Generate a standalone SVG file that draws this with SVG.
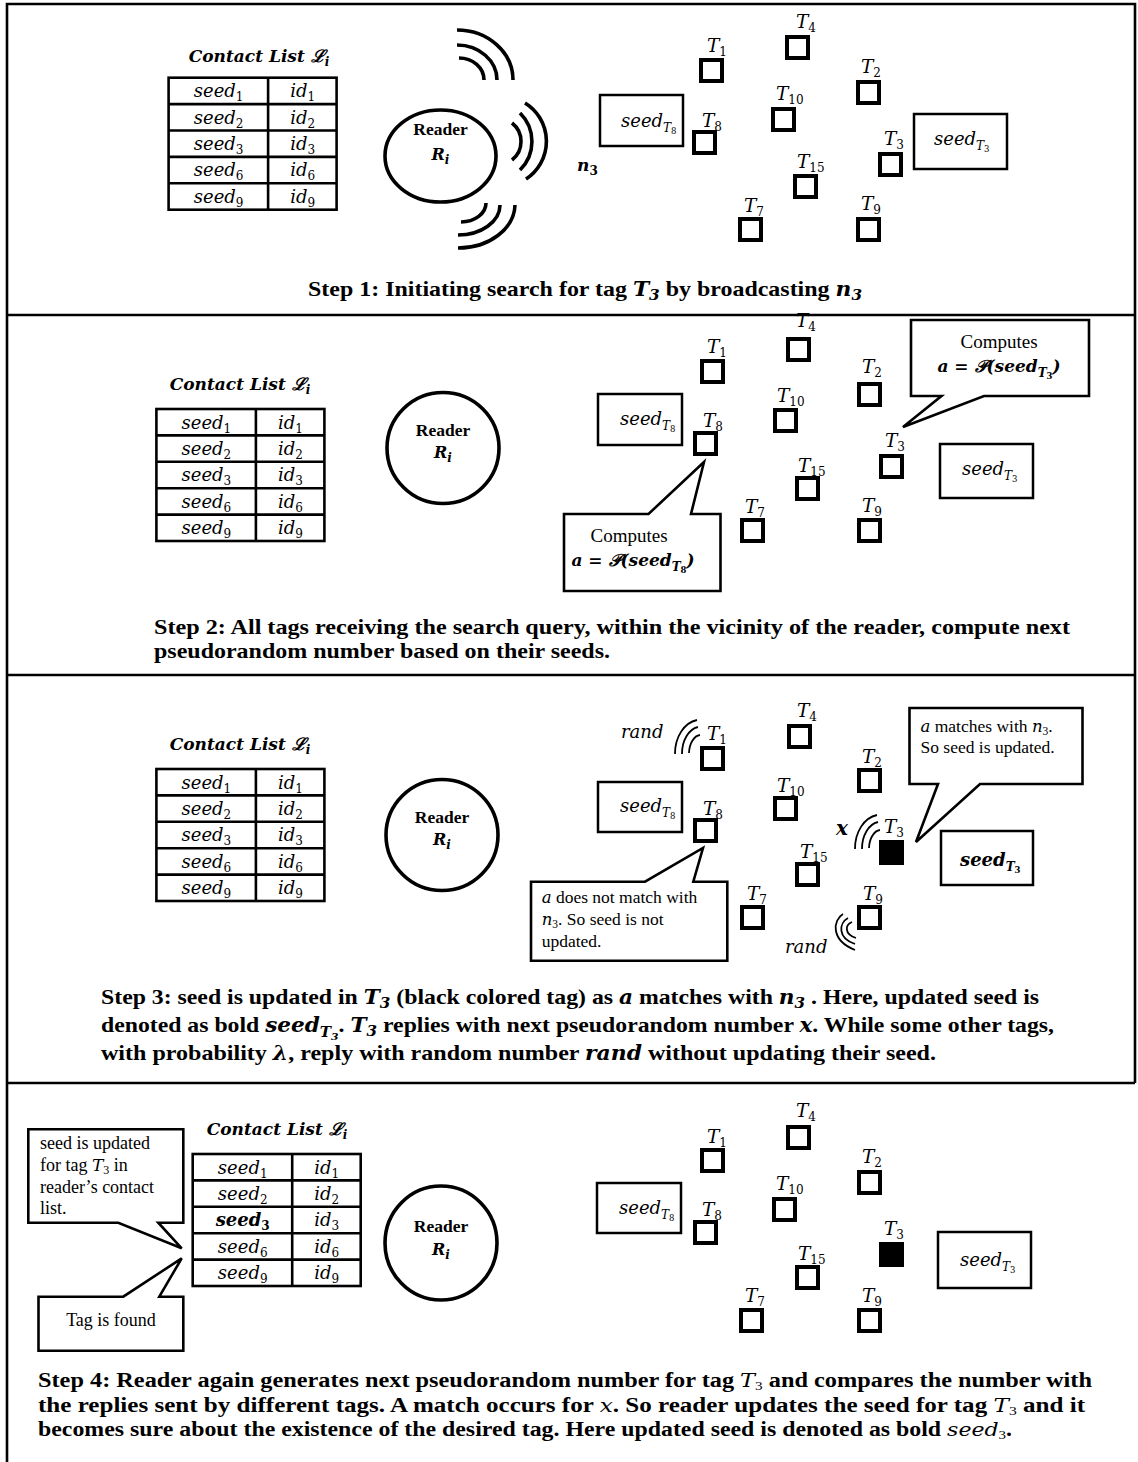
<svg xmlns="http://www.w3.org/2000/svg" xmlns:xlink="http://www.w3.org/1999/xlink" width="1138" height="1462" viewBox="0 0 1138 1462">
<style>
.frame{fill:none;stroke:#000;stroke-width:2.6}
.tag{fill:#fff;stroke:#000;stroke-width:4}
.found{fill:#000;stroke:#000;stroke-width:4}
.sbox{fill:#fff;stroke:#000;stroke-width:2.5}
.grid{fill:none;stroke:#000;stroke-width:2.6}
.reader{fill:#fff;stroke:#000;stroke-width:3.6}
.callout{fill:#fff;stroke:#000;stroke-width:2.6;stroke-linejoin:miter}
.wbig{fill:none;stroke:#000;stroke-width:3.6}
.wsm{fill:none;stroke:#000;stroke-width:1.8}
.m{font-family:'DejaVu Serif','Liberation Serif',serif;font-style:italic}
.mb{font-family:'DejaVu Serif','Liberation Serif',serif;font-style:italic;font-weight:bold}
.tl{font-size:18.5px}
.sub{font-size:12px;font-style:normal}
.subi{font-size:12px;font-style:italic}
.ssub{font-size:8.5px;font-style:normal}
.cell{font-size:18px}
.title{font-size:17px}
.cap{font-family:'Liberation Serif',serif;font-weight:bold;font-size:22px}
.cap4{font-family:'Liberation Serif',serif;font-weight:bold;font-size:20px}
.txt{font-family:'Liberation Serif',serif;font-size:17.5px}
.txt18{font-family:'Liberation Serif',serif;font-size:18px}
.txt19{font-family:'Liberation Serif',serif;font-size:19px}
.rd{font-family:'Liberation Serif',serif;font-weight:bold;font-size:17.5px}
</style>
<defs>
<g id="wv" class="wsm">
<path d="M0,34 A26,34 0 0 1 22,0"/>
<path d="M7,34 A19,27 0 0 1 23,7"/>
<path d="M14,33 A12,19 0 0 1 25,15"/>
</g>
<g id="grid">
<rect x="0" y="0" width="168" height="132" class="grid"/>
<path class="grid" d="M99.5,0 V132 M0,26.4 H168 M0,52.8 H168 M0,79.2 H168 M0,105.6 H168"/>
</g>
</defs>
<rect width="1138" height="1462" fill="#fff"/>
<g id="frame">
<path class="frame" d="M7,1462 V4 H1135 V1083 M7,315 H1135 M7,675 H1135 M7,1083 H1135"/>
</g>

<!-- ============ PANEL 1 ============ -->
<g id="p1-contact-list">
<text class="mb title" x="259" y="62" text-anchor="middle">Contact List ℒ<tspan class="subi" dy="4">i</tspan></text>
<g transform="translate(168.6,77.7)">
<use href="#grid"/>
<g class="m cell" text-anchor="middle">
<text x="50" y="19.5">seed<tspan class="sub" dy="4">1</tspan></text><text x="134" y="19.5">id<tspan class="sub" dy="4">1</tspan></text>
<text x="50" y="45.9">seed<tspan class="sub" dy="4">2</tspan></text><text x="134" y="45.9">id<tspan class="sub" dy="4">2</tspan></text>
<text x="50" y="72.3">seed<tspan class="sub" dy="4">3</tspan></text><text x="134" y="72.3">id<tspan class="sub" dy="4">3</tspan></text>
<text x="50" y="98.7">seed<tspan class="sub" dy="4">6</tspan></text><text x="134" y="98.7">id<tspan class="sub" dy="4">6</tspan></text>
<text x="50" y="125.1">seed<tspan class="sub" dy="4">9</tspan></text><text x="134" y="125.1">id<tspan class="sub" dy="4">9</tspan></text>
</g>
</g>
</g>
<g id="p1-reader">
<ellipse class="reader" cx="440.5" cy="156" rx="55.5" ry="46"/>
<text class="rd" x="440.5" y="135" text-anchor="middle">Reader</text>
<text class="mb" font-size="16" x="440.5" y="160" text-anchor="middle">R<tspan class="subi" dy="4">i</tspan></text>
</g>
<g id="p1-n3"><text class="mb" font-size="17" x="577" y="171">n<tspan class="sub" dy="4">3</tspan></text></g>
<g id="p1-tags">
<g id="p1-T4"><rect class="tag" x="787" y="37" width="21" height="21"/><text class="m tl" x="796" y="28">T<tspan class="sub" dy="4">4</tspan></text></g>
<g id="p1-T1"><rect class="tag" x="701" y="60" width="21" height="21"/><text class="m tl" x="707" y="52">T<tspan class="sub" dy="4">1</tspan></text></g>
<g id="p1-T2"><rect class="tag" x="858" y="82" width="21" height="21"/><text class="m tl" x="861" y="73">T<tspan class="sub" dy="4">2</tspan></text></g>
<g id="p1-T10"><rect class="tag" x="773" y="109" width="21" height="21"/><text class="m tl" x="776" y="100">T<tspan class="sub" dy="4">10</tspan></text></g>
<g id="p1-T8"><rect class="tag" x="694" y="132" width="21" height="21"/><text class="m tl" x="702" y="127">T<tspan class="sub" dy="4">8</tspan></text></g>
<g id="p1-T3"><rect class="tag" x="880" y="154" width="21" height="21"/><text class="m tl" x="884" y="145">T<tspan class="sub" dy="4">3</tspan></text></g>
<g id="p1-T15"><rect class="tag" x="795" y="176" width="21" height="21"/><text class="m tl" x="797" y="168">T<tspan class="sub" dy="4">15</tspan></text></g>
<g id="p1-T7"><rect class="tag" x="740" y="219" width="21" height="21"/><text class="m tl" x="744" y="212">T<tspan class="sub" dy="4">7</tspan></text></g>
<g id="p1-T9"><rect class="tag" x="858" y="219" width="21" height="21"/><text class="m tl" x="861" y="210">T<tspan class="sub" dy="4">9</tspan></text></g>
<g id="p1-seedT8"><rect class="sbox" x="600" y="95" width="83" height="51"/><text class="m" font-size="18" x="621" y="127">seed<tspan class="subi" dy="5">T</tspan><tspan class="ssub" dy="2">8</tspan></text></g>
<g id="p1-seedT3"><rect class="sbox" x="914" y="114" width="93" height="55"/><text class="m" font-size="18" x="934" y="145">seed<tspan class="subi" dy="5">T</tspan><tspan class="ssub" dy="2">3</tspan></text></g>
</g>
<g id="p1-caption">
<text class="cap" x="308" y="296" textLength="554" lengthAdjust="spacingAndGlyphs">Step 1: Initiating search for tag <tspan class="mb" font-size="20">T</tspan><tspan class="mb" font-size="14" font-style="normal" dy="4">3</tspan><tspan dy="-4"> by broadcasting </tspan><tspan class="mb" font-size="20">n</tspan><tspan class="mb" font-size="14" font-style="normal" dy="4">3</tspan></text>
</g>

<!-- ============ PANEL 2 ============ -->
<g id="p2-contact-list">
<text class="mb title" x="240" y="390" text-anchor="middle">Contact List ℒ<tspan class="subi" dy="4">i</tspan></text>
<g transform="translate(156.4,409)">
<use href="#grid"/>
<g class="m cell" text-anchor="middle">
<text x="50" y="19.5">seed<tspan class="sub" dy="4">1</tspan></text><text x="134" y="19.5">id<tspan class="sub" dy="4">1</tspan></text>
<text x="50" y="45.9">seed<tspan class="sub" dy="4">2</tspan></text><text x="134" y="45.9">id<tspan class="sub" dy="4">2</tspan></text>
<text x="50" y="72.3">seed<tspan class="sub" dy="4">3</tspan></text><text x="134" y="72.3">id<tspan class="sub" dy="4">3</tspan></text>
<text x="50" y="98.7">seed<tspan class="sub" dy="4">6</tspan></text><text x="134" y="98.7">id<tspan class="sub" dy="4">6</tspan></text>
<text x="50" y="125.1">seed<tspan class="sub" dy="4">9</tspan></text><text x="134" y="125.1">id<tspan class="sub" dy="4">9</tspan></text>
</g>
</g>
</g>
<g id="p2-reader">
<ellipse class="reader" cx="443" cy="448" rx="56" ry="55.5"/>
<text class="rd" x="443" y="436" text-anchor="middle">Reader</text>
<text class="mb" font-size="16" x="443" y="458" text-anchor="middle">R<tspan class="subi" dy="4">i</tspan></text>
</g>
<g id="p2-tags">
<g id="p2-T4"><rect class="tag" x="788" y="339" width="21" height="21"/><text class="m tl" x="796" y="327">T<tspan class="sub" dy="4">4</tspan></text></g>
<g id="p2-T1"><rect class="tag" x="702" y="361" width="21" height="21"/><text class="m tl" x="707" y="353">T<tspan class="sub" dy="4">1</tspan></text></g>
<g id="p2-T2"><rect class="tag" x="859" y="384" width="21" height="21"/><text class="m tl" x="862" y="373">T<tspan class="sub" dy="4">2</tspan></text></g>
<g id="p2-T10"><rect class="tag" x="775" y="410" width="21" height="21"/><text class="m tl" x="777" y="402">T<tspan class="sub" dy="4">10</tspan></text></g>
<g id="p2-T8"><rect class="tag" x="695" y="433" width="21" height="21"/><text class="m tl" x="703" y="427">T<tspan class="sub" dy="4">8</tspan></text></g>
<g id="p2-T3"><rect class="tag" x="881" y="456" width="21" height="21"/><text class="m tl" x="885" y="447">T<tspan class="sub" dy="4">3</tspan></text></g>
<g id="p2-T15"><rect class="tag" x="797" y="478" width="21" height="21"/><text class="m tl" x="798" y="472">T<tspan class="sub" dy="4">15</tspan></text></g>
<g id="p2-T7"><rect class="tag" x="742" y="520" width="21" height="21"/><text class="m tl" x="745" y="513">T<tspan class="sub" dy="4">7</tspan></text></g>
<g id="p2-T9"><rect class="tag" x="859" y="520" width="21" height="21"/><text class="m tl" x="862" y="512">T<tspan class="sub" dy="4">9</tspan></text></g>
<g id="p2-seedT8"><rect class="sbox" x="598" y="394" width="84" height="51"/><text class="m" font-size="18" x="620" y="425">seed<tspan class="subi" dy="5">T</tspan><tspan class="ssub" dy="2">8</tspan></text></g>
<g id="p2-seedT3"><rect class="sbox" x="940" y="444" width="93" height="54"/><text class="m" font-size="18" x="962" y="475">seed<tspan class="subi" dy="5">T</tspan><tspan class="ssub" dy="2">3</tspan></text></g>
</g>
<g id="p2-callout-T3">
<path class="callout" d="M911,320 H1089 V396 H984 L903,427 L941.5,396 H911 Z"/>
<text class="txt19" x="999" y="348" text-anchor="middle">Computes</text>
<text class="mb" font-size="17" x="999" y="372" text-anchor="middle">a = 𝒫(seed<tspan class="subi" dy="5">T</tspan><tspan class="ssub" dy="2">3</tspan><tspan dy="-7">)</tspan></text>
</g>
<g id="p2-callout-T8">
<path class="callout" d="M564,514 H648.5 L704,462 L691,514 H720.5 V591 H564 Z"/>
<text class="txt19" x="629" y="542" text-anchor="middle">Computes</text>
<text class="mb" font-size="17" x="633" y="566" text-anchor="middle">a = 𝒫(seed<tspan class="subi" dy="5">T</tspan><tspan class="ssub" dy="2">8</tspan><tspan dy="-7">)</tspan></text>
</g>
<g id="p2-caption">
<text class="cap" x="154" y="634" textLength="916" lengthAdjust="spacingAndGlyphs">Step 2: All tags receiving the search query, within the vicinity of the reader, compute next</text>
<text class="cap" x="154" y="658" textLength="456" lengthAdjust="spacingAndGlyphs">pseudorandom number based on their seeds.</text>
</g>

<!-- ============ PANEL 3 ============ -->
<g id="p3-contact-list">
<text class="mb title" x="240" y="750" text-anchor="middle">Contact List ℒ<tspan class="subi" dy="4">i</tspan></text>
<g transform="translate(156.4,769)">
<use href="#grid"/>
<g class="m cell" text-anchor="middle">
<text x="50" y="19.5">seed<tspan class="sub" dy="4">1</tspan></text><text x="134" y="19.5">id<tspan class="sub" dy="4">1</tspan></text>
<text x="50" y="45.9">seed<tspan class="sub" dy="4">2</tspan></text><text x="134" y="45.9">id<tspan class="sub" dy="4">2</tspan></text>
<text x="50" y="72.3">seed<tspan class="sub" dy="4">3</tspan></text><text x="134" y="72.3">id<tspan class="sub" dy="4">3</tspan></text>
<text x="50" y="98.7">seed<tspan class="sub" dy="4">6</tspan></text><text x="134" y="98.7">id<tspan class="sub" dy="4">6</tspan></text>
<text x="50" y="125.1">seed<tspan class="sub" dy="4">9</tspan></text><text x="134" y="125.1">id<tspan class="sub" dy="4">9</tspan></text>
</g>
</g>
</g>
<g id="p3-reader">
<ellipse class="reader" cx="442" cy="835" rx="56" ry="55.5"/>
<text class="rd" x="442" y="823" text-anchor="middle">Reader</text>
<text class="mb" font-size="16" x="442" y="845" text-anchor="middle">R<tspan class="subi" dy="4">i</tspan></text>
</g>
<g id="p3-tags">
<g id="p3-T4"><rect class="tag" x="789" y="726" width="21" height="21"/><text class="m tl" x="797" y="717">T<tspan class="sub" dy="4">4</tspan></text></g>
<g id="p3-T1"><rect class="tag" x="702" y="748" width="21" height="21"/><text class="m tl" x="707" y="740">T<tspan class="sub" dy="4">1</tspan></text></g>
<g id="p3-T2"><rect class="tag" x="859" y="770" width="21" height="21"/><text class="m tl" x="862" y="763">T<tspan class="sub" dy="4">2</tspan></text></g>
<g id="p3-T10"><rect class="tag" x="775" y="798" width="21" height="21"/><text class="m tl" x="777" y="792">T<tspan class="sub" dy="4">10</tspan></text></g>
<g id="p3-T8"><rect class="tag" x="695" y="820" width="21" height="21"/><text class="m tl" x="703" y="815">T<tspan class="sub" dy="4">8</tspan></text></g>
<g id="p3-T3"><rect class="found" x="881" y="842" width="21" height="21"/><text class="m tl" x="884" y="833">T<tspan class="sub" dy="4">3</tspan></text></g>
<g id="p3-T15"><rect class="tag" x="797" y="864" width="21" height="21"/><text class="m tl" x="800" y="858">T<tspan class="sub" dy="4">15</tspan></text></g>
<g id="p3-T7"><rect class="tag" x="742" y="907" width="21" height="21"/><text class="m tl" x="747" y="900">T<tspan class="sub" dy="4">7</tspan></text></g>
<g id="p3-T9"><rect class="tag" x="859" y="907" width="21" height="21"/><text class="m tl" x="863" y="900">T<tspan class="sub" dy="4">9</tspan></text></g>
<g id="p3-seedT8"><rect class="sbox" x="598" y="782" width="84" height="50"/><text class="m" font-size="18" x="620" y="812">seed<tspan class="subi" dy="5">T</tspan><tspan class="ssub" dy="2">8</tspan></text></g>
<g id="p3-seedT3"><rect class="sbox" x="941" y="831" width="92" height="54"/><text class="mb" font-size="18" x="960" y="866">seed<tspan class="subi" dy="5">T</tspan><tspan class="ssub" dy="2">3</tspan></text></g>
</g>
<g id="p3-labels">
<text class="m" font-size="18" x="621" y="738">rand</text>
<text class="mb" font-size="20" x="836" y="835">x</text>
<text class="m" font-size="18" x="785" y="953">rand</text>
</g>
<g id="p3-callout-T3">
<path class="callout" d="M909.5,708 H1082.5 V784 H980 L916,842 L938,784 H909.5 Z"/>
<text class="txt" x="920.5" y="732"><tspan class="m" font-size="16.5">a</tspan> matches with  <tspan class="m" font-size="16.5">n</tspan><tspan font-size="11.5" dy="3">3</tspan><tspan dy="-3">.</tspan></text>
<text class="txt" x="920.5" y="753">So seed is updated.</text>
</g>
<g id="p3-callout-T8">
<path class="callout" d="M531,881.7 H645 L703,848 L693.3,881.7 H727.3 V960.7 H531 Z"/>
<text class="txt" x="541.7" y="903"><tspan class="m" font-size="16.5">a</tspan> does not match with</text>
<text class="txt" x="541.7" y="925"> <tspan class="m" font-size="16.5">n</tspan><tspan font-size="11.5" dy="3">3</tspan><tspan dy="-3">. So seed is not</tspan></text>
<text class="txt" x="541.7" y="947">updated.</text>
</g>
<g id="p3-caption">
<text class="cap" x="101" y="1004" textLength="938" lengthAdjust="spacingAndGlyphs">Step 3: seed is updated in <tspan class="mb" font-size="20">T</tspan><tspan class="mb" font-size="14" font-style="normal" dy="4">3</tspan><tspan dy="-4"> (black colored tag) as </tspan><tspan class="m" font-size="20">a</tspan> matches with <tspan class="mb" font-size="20">n</tspan><tspan class="mb" font-size="14" font-style="normal" dy="4">3</tspan><tspan dy="-4"> . Here, updated seed is</tspan></text>
<text class="cap" x="101" y="1032" textLength="953" lengthAdjust="spacingAndGlyphs">denoted as bold <tspan class="mb" font-size="20">seed</tspan><tspan class="mb" font-size="14" dy="5">T</tspan><tspan class="mb" font-size="10" font-style="normal" dy="3">3</tspan><tspan dy="-8">. </tspan><tspan class="mb" font-size="20">T</tspan><tspan class="mb" font-size="14" font-style="normal" dy="4">3</tspan><tspan dy="-4"> replies with next pseudorandom number </tspan><tspan class="mb" font-size="20">x</tspan>. While some other tags,</text>
<text class="cap" x="101" y="1060" textLength="835" lengthAdjust="spacingAndGlyphs">with probability <tspan class="mb" font-size="20">λ</tspan>, reply with random number <tspan class="mb" font-size="20">rand</tspan> without updating their seed.</text>
</g>

<!-- ============ PANEL 4 ============ -->
<g id="p4-contact-list">
<text class="mb title" x="277" y="1135" text-anchor="middle">Contact List ℒ<tspan class="subi" dy="4">i</tspan></text>
<g transform="translate(192.7,1154)">
<use href="#grid"/>
<g class="m cell" text-anchor="middle">
<text x="50" y="19.5">seed<tspan class="sub" dy="4">1</tspan></text><text x="134" y="19.5">id<tspan class="sub" dy="4">1</tspan></text>
<text x="50" y="45.9">seed<tspan class="sub" dy="4">2</tspan></text><text x="134" y="45.9">id<tspan class="sub" dy="4">2</tspan></text>
<text x="50" y="72.3" font-weight="bold">seed<tspan class="sub" dy="4">3</tspan></text><text x="134" y="72.3">id<tspan class="sub" dy="4">3</tspan></text>
<text x="50" y="98.7">seed<tspan class="sub" dy="4">6</tspan></text><text x="134" y="98.7">id<tspan class="sub" dy="4">6</tspan></text>
<text x="50" y="125.1">seed<tspan class="sub" dy="4">9</tspan></text><text x="134" y="125.1">id<tspan class="sub" dy="4">9</tspan></text>
</g>
</g>
</g>
<g id="p4-reader">
<ellipse class="reader" cx="441" cy="1243" rx="56" ry="57"/>
<text class="rd" x="441" y="1232" text-anchor="middle">Reader</text>
<text class="mb" font-size="16" x="441" y="1255" text-anchor="middle">R<tspan class="subi" dy="4">i</tspan></text>
</g>
<g id="p4-tags">
<g id="p4-T4"><rect class="tag" x="788" y="1127" width="21" height="21"/><text class="m tl" x="796" y="1117">T<tspan class="sub" dy="4">4</tspan></text></g>
<g id="p4-T1"><rect class="tag" x="702" y="1150" width="21" height="21"/><text class="m tl" x="707" y="1143">T<tspan class="sub" dy="4">1</tspan></text></g>
<g id="p4-T2"><rect class="tag" x="859" y="1172" width="21" height="21"/><text class="m tl" x="862" y="1163">T<tspan class="sub" dy="4">2</tspan></text></g>
<g id="p4-T10"><rect class="tag" x="774" y="1199" width="21" height="21"/><text class="m tl" x="776" y="1190">T<tspan class="sub" dy="4">10</tspan></text></g>
<g id="p4-T8"><rect class="tag" x="695" y="1222" width="21" height="21"/><text class="m tl" x="702" y="1216">T<tspan class="sub" dy="4">8</tspan></text></g>
<g id="p4-T3"><rect class="found" x="881" y="1244" width="21" height="21"/><text class="m tl" x="884" y="1235">T<tspan class="sub" dy="4">3</tspan></text></g>
<g id="p4-T15"><rect class="tag" x="797" y="1267" width="21" height="21"/><text class="m tl" x="798" y="1260">T<tspan class="sub" dy="4">15</tspan></text></g>
<g id="p4-T7"><rect class="tag" x="741" y="1310" width="21" height="21"/><text class="m tl" x="745" y="1302">T<tspan class="sub" dy="4">7</tspan></text></g>
<g id="p4-T9"><rect class="tag" x="859" y="1310" width="21" height="21"/><text class="m tl" x="862" y="1302">T<tspan class="sub" dy="4">9</tspan></text></g>
<g id="p4-seedT8"><rect class="sbox" x="597" y="1183" width="84" height="50"/><text class="m" font-size="18" x="619" y="1214">seed<tspan class="subi" dy="5">T</tspan><tspan class="ssub" dy="2">8</tspan></text></g>
<g id="p4-seedT3"><rect class="sbox" x="938" y="1232" width="93" height="56"/><text class="m" font-size="18" x="960" y="1266">seed<tspan class="subi" dy="5">T</tspan><tspan class="ssub" dy="2">3</tspan></text></g>
</g>
<g id="p4-callout-updated">
<path class="callout" d="M28.3,1129.3 H183.3 V1222.7 H158.3 L181.7,1248.3 L118.3,1222.7 H28.3 Z"/>
<text class="txt18" x="40" y="1149">seed is updated</text>
<text class="txt18" x="40" y="1171">for tag <tspan class="m" font-size="17">T</tspan><tspan font-size="12" dy="3">3</tspan><tspan dy="-3"> in</tspan></text>
<text class="txt18" x="40" y="1193">reader’s contact</text>
<text class="txt18" x="40" y="1214">list.</text>
</g>
<g id="p4-callout-found">
<path class="callout" d="M38.5,1296.7 H123.3 L181.7,1258.3 L159.3,1296.7 H183.3 V1350.7 H38.5 Z"/>
<text class="txt18" x="111" y="1326" text-anchor="middle">Tag is found</text>
</g>
<g id="p4-caption">
<text class="cap4" x="38" y="1387" textLength="1054" lengthAdjust="spacingAndGlyphs">Step 4: Reader again generates next pseudorandom number for tag <tspan class="m" font-size="18.5" font-weight="normal">T</tspan><tspan font-size="12.5" font-weight="normal" dy="3">3</tspan><tspan dy="-3"> and compares the number with</tspan></text>
<text class="cap4" x="38" y="1412" textLength="1047" lengthAdjust="spacingAndGlyphs">the replies sent by different tags. A match occurs for <tspan class="m" font-size="18.5" font-weight="normal">x</tspan>. So reader updates the seed for tag <tspan class="m" font-size="18.5" font-weight="normal">T</tspan><tspan font-size="12.5" font-weight="normal" dy="3">3</tspan><tspan dy="-3"> and it</tspan></text>
<text class="cap4" x="38" y="1436" textLength="974" lengthAdjust="spacingAndGlyphs">becomes sure about the existence of the desired tag. Here updated seed is denoted as bold <tspan class="m" font-size="18.5" font-weight="normal">seed</tspan><tspan font-size="12.5" font-weight="normal" dy="3">3</tspan><tspan dy="-3">.</tspan></text>
</g>

<!-- ============ SIGNAL WAVES ============ -->
<g id="connectors">
<g id="p1-waves-top" class="wbig">
<path d="M457,30 A56,50 0 0 1 513,80"/>
<path d="M457,45 A40,35 0 0 1 497,80"/>
<path d="M459,58 A25,22 0 0 1 484,80"/>
</g>
<g id="p1-waves-right" class="wbig">
<path d="M525,103 A45,45 0 0 1 526,179"/>
<path d="M520,113 A40,40 0 0 1 520,170"/>
<path d="M512,123 A23.5,23.5 0 0 1 512,160"/>
</g>
<g id="p1-waves-bottom" class="wbig">
<path d="M458,248 A57,44 0 0 0 515,205"/>
<path d="M458,235 A42,30 0 0 0 500,205"/>
<path d="M461,222 A25,19 0 0 0 486,203"/>
</g>
<use id="p3-waves-T1" href="#wv" x="675" y="720"/>
<use id="p3-waves-T3" href="#wv" x="855" y="815"/>
<g id="p3-waves-T9" class="wsm">
<path d="M843,914 C833,920 830,940 855,950"/>
<path d="M848,918 C839,923 837,938 855,944"/>
<path d="M852,922 C845,925 844,934 856,938"/>
</g>
</g>
</svg>
